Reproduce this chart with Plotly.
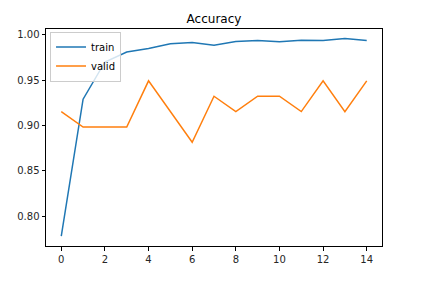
import plotly.graph_objects as go

epochs = list(range(15))
train_acc = [0.778, 0.929, 0.970, 0.981, 0.985, 0.990, 0.9915, 0.9886, 0.9926, 0.9937, 0.9923, 0.994, 0.9937, 0.996, 0.9937]
valid_acc = [0.9153, 0.8983, 0.8983, 0.8983, 0.9492, 0.9153, 0.8814, 0.9322, 0.9153, 0.9322, 0.9322, 0.9153, 0.9492, 0.9153, 0.9492]
x_ticks = [0, 2, 4, 6, 8, 10, 12, 14]
y_ticks = [0.80, 0.85, 0.90, 0.95, 1.00]

fig = go.Figure()
fig.add_trace(go.Scatter(x=epochs, y=train_acc, mode="lines", name="train",
                         line=dict(color="#1f77b4", width=1.5)))
fig.add_trace(go.Scatter(x=epochs, y=valid_acc, mode="lines", name="valid",
                         line=dict(color="#ff7f0e", width=1.5)))

W, H = 439, 281
L, R, T, B = 46.3, 381.7, 28.5, 246.3
axis_common = dict(showline=True, linecolor="black", linewidth=1, mirror=True,
                   ticks="outside", ticklen=3.5, tickwidth=0.8, tickcolor="black",
                   showgrid=False, zeroline=False,
                   tickfont=dict(family="DejaVu Sans", size=10, color="#262626"))
fig.update_layout(
    width=W, height=H,
    margin=dict(l=L, r=W - R, t=T, b=H - B, pad=0),
    paper_bgcolor="white", plot_bgcolor="white",
    font=dict(family="DejaVu Sans", size=10, color="black"),
    title=dict(text="Accuracy", x=(L + R) / 2 / W, xanchor="center",
               y=1 - 18.5 / H, yanchor="middle", yref="container",
               font=dict(family="DejaVu Sans", size=12, color="black")),
    xaxis=dict(range=[-0.7, 14.7], tickvals=x_ticks, ticktext=[str(v) for v in x_ticks], **axis_common),
    yaxis=dict(range=[0.767, 1.0064], tickvals=y_ticks, ticktext=[f"{v:.2f}" for v in y_ticks], **axis_common),
    legend=dict(x=0.012, y=0.988, xanchor="left", yanchor="top",
                bgcolor="rgba(255,255,255,0.8)", bordercolor="#cccccc", borderwidth=1,
                font=dict(family="DejaVu Sans", size=10, color="black"),
                tracegroupgap=0, itemwidth=30),
    showlegend=True,
)
fig.write_html("out.html")
